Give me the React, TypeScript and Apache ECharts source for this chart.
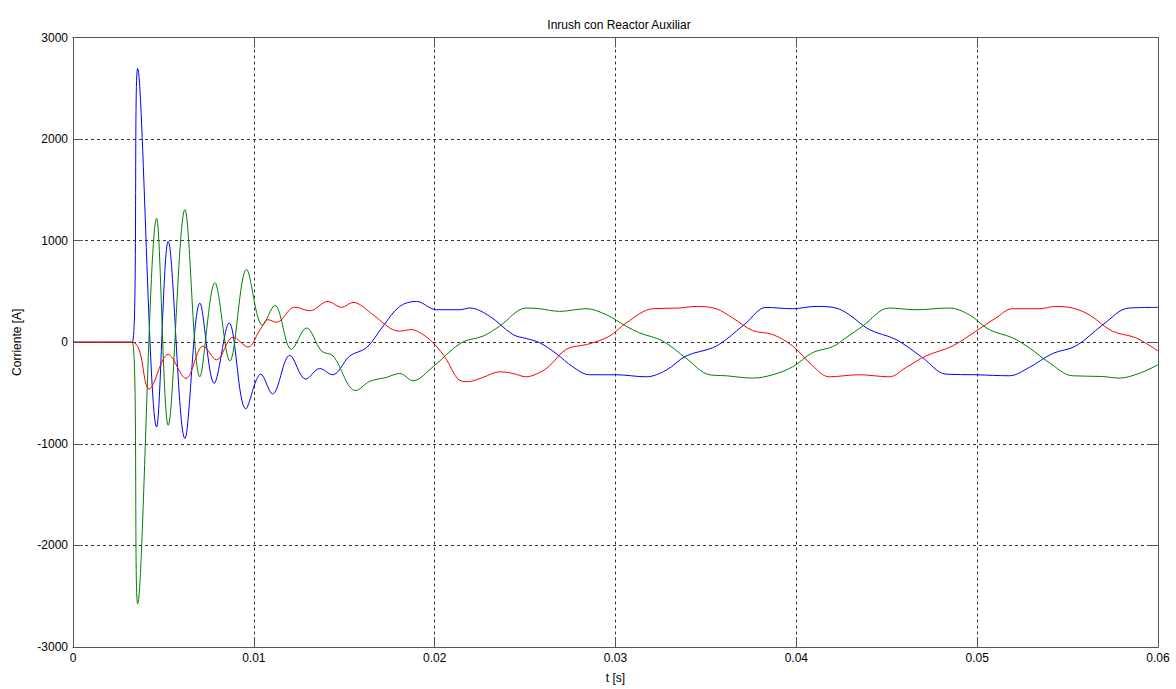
import React, { useEffect, useRef } from "react";
import * as echarts from "echarts";

const chartTitle = "Inrush con Reactor Auxiliar";
const xName = "t [s]";
const yName = "Corriente [A]";
const xTicks = [0, 0.01, 0.02, 0.03, 0.04, 0.05, 0.06];
const yTicks = [-3000, -2000, -1000, 0, 1000, 2000, 3000];

// Phase currents (blue, green, red): time [s] and current [A]
const blueT = [0, 0.003276, 0.003575, 0.004624, 0.005265, 0.006188, 0.007017, 0.007807, 0.008635, 0.009558, 0.010387, 0.011033, 0.011989, 0.012873, 0.013646, 0.014348, 0.015304, 0.016227, 0.017144, 0.018066, 0.018989, 0.020094, 0.021381, 0.021934, 0.023039, 0.024326, 0.025066, 0.025801, 0.026724, 0.027641, 0.028564, 0.030039, 0.031696, 0.032801, 0.033906, 0.035376, 0.036116, 0.037221, 0.038326, 0.039796, 0.041088, 0.042193, 0.042928, 0.044033, 0.045508, 0.046978, 0.048271, 0.049928, 0.051768, 0.052873, 0.05416, 0.055453, 0.056923, 0.058398, 0.06];
const blueI = [0, 0, 2695, -834, 993, -948, 385, -405, 190, -655, -314, -509, -129, -363, -259, -320, -135, -54, 158, 353, 402, 320, 320, 337, 256, 76, 37, -5, -112, -242, -320, -320, -340, -275, -135, -54, 27, 190, 343, 330, 353, 337, 271, 125, 27, -151, -314, -320, -330, -249, -112, -37, 168, 337, 343];

const greenT = [0, 0.003276, 0.003575, 0.004624, 0.005265, 0.006188, 0.007017, 0.007845, 0.008674, 0.009597, 0.010481, 0.01116, 0.012083, 0.012912, 0.01374, 0.014381, 0.015635, 0.016409, 0.017331, 0.018066, 0.018801, 0.019906, 0.021475, 0.022669, 0.023591, 0.025066, 0.025801, 0.026906, 0.028381, 0.029486, 0.030591, 0.031326, 0.032613, 0.033906, 0.035193, 0.036116, 0.037586, 0.038691, 0.039796, 0.040901, 0.042006, 0.042746, 0.043663, 0.045138, 0.046613, 0.048453, 0.049558, 0.050663, 0.05195, 0.052873, 0.053978, 0.055265, 0.056923, 0.057845, 0.05895, 0.06];
const greenI = [0, 0, -2574, 1221, -818, 1305, -340, 587, -184, 717, 168, 363, -70, 141, -86, -135, -476, -385, -346, -307, -379, -242, -5, 60, 158, 337, 330, 304, 330, 271, 158, 93, 12, -158, -320, -330, -353, -320, -242, -102, -44, 44, 158, 337, 320, 337, 271, 125, 44, -54, -200, -330, -337, -353, -307, -222];

const redT = [0, 0.003276, 0.004215, 0.005265, 0.006243, 0.007199, 0.007939, 0.008856, 0.009685, 0.010331, 0.01079, 0.011254, 0.012265, 0.013094, 0.014105, 0.014845, 0.015486, 0.016591, 0.017514, 0.018066, 0.018713, 0.019354, 0.02, 0.020646, 0.021287, 0.02184, 0.022669, 0.023591, 0.024326, 0.025066, 0.025801, 0.026354, 0.027276, 0.028564, 0.029669, 0.030591, 0.032061, 0.033536, 0.034459, 0.035564, 0.036481, 0.037586, 0.038691, 0.039796, 0.040901, 0.041823, 0.043481, 0.045138, 0.046061, 0.047166, 0.048635, 0.049928, 0.051033, 0.05195, 0.053425, 0.054348, 0.055265, 0.05619, 0.057475, 0.058768, 0.06];
const redI = [0, 0, -460, -119, -356, -37, -174, 51, -47, 120, 222, 197, 346, 310, 402, 343, 392, 271, 141, 109, 125, 76, -21, -168, -363, -388, -346, -291, -307, -340, -298, -232, -70, -15, 60, 190, 330, 337, 353, 330, 239, 115, 76, -37, -232, -340, -320, -340, -249, -135, -37, 109, 239, 330, 330, 353, 337, 271, 109, 44, -86];

const FONT = "'Liberation Sans', Arial, sans-serif";

function pairs(t: number[], v: number[]) {
  return t.map((x, i) => [x, v[i]]);
}

export default function App() {
  const ref = useRef<HTMLDivElement>(null);
  useEffect(() => {
    document.body.style.margin = "0";
    const chart = echarts.init(ref.current!, null, { renderer: "svg" });
    const axisLine = { show: true, onZero: false, lineStyle: { color: "#555", width: 1 } };
    const tick = { show: true, inside: true, length: 10, lineStyle: { color: "#555" } };
    const grid = { show: true, lineStyle: { color: "#333", type: [3, 3] as any, width: 1 } };
    const mk = (name: string, t: number[], v: number[], color: string) => ({
      name,
      type: "line",
      data: pairs(t, v),
      showSymbol: false,
      smooth: 0.35,
      lineStyle: { color, width: 1 },
      itemStyle: { color },
      xAxisIndex: 0,
      yAxisIndex: 0,
    });
    chart.setOption({
      animation: false,
      backgroundColor: "#fff",
      title: {
        text: chartTitle,
        left: 614,
        top: 14,
        textAlign: "center",
        textStyle: { fontFamily: FONT, fontSize: 12, fontWeight: "normal", color: "#000" },
      },
      grid: { left: 73, width: 1085, top: 37.5, height: 614.5, containLabel: false },
      xAxis: [
        {
          type: "value",
          position: "bottom",
          min: 0,
          max: 0.06,
          interval: 0.01,
          name: xName,
          nameLocation: "middle",
          nameGap: 25,
          nameTextStyle: { fontFamily: FONT, fontSize: 12, color: "#000" },
          axisLine,
          axisTick: tick,
          splitLine: grid,
          axisLabel: {
            margin: 5,
            fontFamily: FONT,
            fontSize: 12,
            color: "#000",
            formatter: (v: number) => {
              const i = xTicks.findIndex((x) => Math.abs(x - v) < 1e-9);
              return i === 0 ? "0" : i > 0 ? xTicks[i].toFixed(2) : "";
            },
          },
        },
        {
          type: "value",
          position: "top",
          min: 0,
          max: 0.06,
          interval: 0.01,
          axisLine,
          axisTick: tick,
          splitLine: { show: false },
          axisLabel: { show: false },
        },
      ],
      yAxis: [
        {
          type: "value",
          position: "left",
          min: yTicks[0],
          max: yTicks[yTicks.length - 1],
          interval: 1000,
          name: yName,
          nameLocation: "middle",
          nameGap: 50,
          nameTextStyle: { fontFamily: FONT, fontSize: 12, color: "#000" },
          axisLine,
          axisTick: tick,
          splitLine: grid,
          axisLabel: {
            margin: 5,
            fontFamily: FONT,
            fontSize: 12,
            color: "#000",
            formatter: (v: number) => String(Math.round(v)),
          },
        },
        {
          type: "value",
          position: "right",
          min: yTicks[0],
          max: yTicks[yTicks.length - 1],
          interval: 1000,
          axisLine,
          axisTick: tick,
          splitLine: { show: false },
          axisLabel: { show: false },
        },
      ],
      series: [
        mk("Ia", blueT, blueI, "#0000ff"),
        mk("Ib", greenT, greenI, "#008000"),
        mk("Ic", redT, redI, "#ff0000"),
      ],
    });
    return () => chart.dispose();
  }, []);
  return (
    <div
      ref={ref}
      style={{ position: "fixed", left: 0, top: 0, width: 1176, height: 689 }}
    />
  );
}
